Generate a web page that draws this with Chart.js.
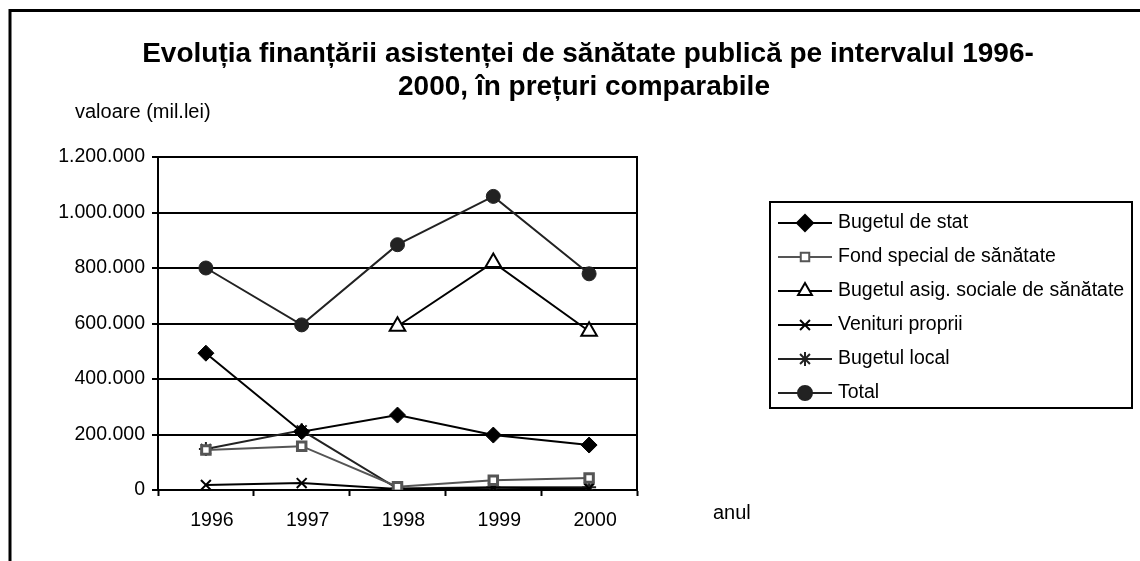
<!DOCTYPE html>
<html>
<head>
<meta charset="utf-8">
<title>Evolutia finantarii</title>
<script src="https://cdn.jsdelivr.net/npm/chart.js@4"></script>
<style>
	body { margin: 0; background: #fff; }
	canvas { display: block; }
</style>
</head>
<body>
<canvas id="chart" width="1140" height="561"></canvas>
<script>
const years = ['1996', '1997', '1998', '1999', '2000'];
const bugetulDeStat = [493000, 210000, 270000, 198000, 162000];
const fondSpecial = [144000, 158000, 12000, 35000, 43000];
const bugetulAsig = [null, null, 590000, 820000, 572000];
const venituriProprii = [18000, 25000, 4000, 8000, 5000];
const bugetulLocal = [148000, 215000, 5000, 10000, 10000];
const total = [800000, 595000, 884000, 1058000, 779000];
const yTicks = [0, 200000, 400000, 600000, 800000, 1000000, 1200000];

const titleLines = ['Evoluția finanțării asistenței de sănătate publică pe intervalul 1996-', '2000, în prețuri comparabile'];
const yTitle = 'valoare (mil.lei)';
const xTitle = 'anul';

const FONT = "'Liberation Sans', Arial, sans-serif";

function fmt(v) {
	return String(v).replace(/\B(?=(\d{3})+(?!\d))/g, '.');
}

const chartData = {
	labels: years,
	datasets: [{
		label: 'Bugetul de stat',
		data: bugetulDeStat,
		borderColor: '#000',
		backgroundColor: '#000',
		pointStyle: 'rectRot',
		pointRadius: 8,
		pointBorderWidth: 1
	}, {
		label: 'Fond special de sănătate',
		data: fondSpecial,
		borderColor: '#555',
		backgroundColor: '#fff',
		pointStyle: 'rect',
		pointRadius: 6,
		pointBorderWidth: 3
	}, {
		label: 'Bugetul asig. sociale de sănătate',
		data: bugetulAsig,
		borderColor: '#000',
		backgroundColor: '#fff',
		pointStyle: 'triangle',
		pointRadius: 9,
		pointBorderWidth: 2
	}, {
		label: 'Venituri proprii',
		data: venituriProprii,
		borderColor: '#000',
		backgroundColor: '#000',
		pointStyle: 'crossRot',
		pointRadius: 7,
		pointBorderWidth: 2
	}, {
		label: 'Bugetul local',
		data: bugetulLocal,
		borderColor: '#222',
		backgroundColor: '#222',
		pointStyle: 'star',
		pointRadius: 7,
		pointBorderWidth: 2
	}, {
		label: 'Total',
		data: total,
		borderColor: '#222',
		backgroundColor: '#222',
		pointStyle: 'circle',
		pointRadius: 7,
		pointBorderWidth: 1
	}]
};

// frame, titles and the legend box, drawn on the canvas
const decor = {
	id: 'decor',
	beforeDatasetsDraw(chart) {
		const ctx = chart.ctx;
		const a = chart.chartArea;
		ctx.save();
		ctx.strokeStyle = '#000';
		ctx.lineWidth = 2;
		ctx.strokeRect(a.left, a.top, a.right - a.left, a.bottom - a.top);
		ctx.restore();
	},
	afterDraw(chart) {
		const ctx = chart.ctx;
		ctx.save();
		// outer frame (only top and left are visible)
		ctx.strokeStyle = '#000';
		ctx.lineWidth = 3;
		ctx.beginPath();
		ctx.moveTo(10, 561);
		ctx.lineTo(10, 10.5);
		ctx.lineTo(1140, 10.5);
		ctx.stroke();

		ctx.fillStyle = '#000';
		ctx.textAlign = 'center';
		ctx.textBaseline = 'middle';
		ctx.font = 'bold 28px ' + FONT;
		ctx.fillText(titleLines[0], 588, 54);
		ctx.fillText(titleLines[1], 584, 87);

		ctx.font = '20px ' + FONT;
		ctx.textAlign = 'left';
		ctx.fillText(yTitle, 75, 112);
		ctx.fillText(xTitle, 713, 513);

		// legend
		ctx.lineWidth = 2;
		ctx.strokeRect(770, 202, 362, 206);
		chart.data.datasets.forEach((ds, i) => {
			const y = 223 + i * 34;
			ctx.strokeStyle = ds.borderColor;
			ctx.lineWidth = 2;
			ctx.beginPath();
			ctx.moveTo(778, y);
			ctx.lineTo(832, y);
			ctx.stroke();
			ctx.fillStyle = ds.backgroundColor;
			Chart.helpers.drawPoint(ctx, {
				pointStyle: ds.pointStyle,
				radius: Math.min(ds.pointRadius, 8),
				rotation: 0,
				borderWidth: ds.pointBorderWidth
			}, 805, y);
			ctx.fillStyle = '#000';
			ctx.font = '19.5px ' + FONT;
			ctx.textAlign = 'left';
			ctx.textBaseline = 'middle';
			ctx.fillText(ds.label, 838, y);
		});
		ctx.restore();
	}
};

const config = {
	type: 'line',
	data: chartData,
	options: {
		responsive: false,
		animation: false,
		devicePixelRatio: 1,
		spanGaps: false,
		elements: {
			line: { borderWidth: 2, tension: 0 }
		},
		layout: {
			padding: { left: 0, top: 157, right: 503, bottom: 0 }
		},
		plugins: {
			legend: { display: false },
			tooltip: { enabled: false }
		},
		scales: {
			x: {
				offset: true,
				afterFit: function(scale) { scale.height = 71; },
				grid: {
					offset: true,
					drawOnChartArea: false,
					drawTicks: true,
					tickLength: 6,
					tickWidth: 2,
					tickColor: '#000'
				},
				border: { display: true, color: '#000', width: 2 },
				ticks: {
					color: '#000',
					padding: 13,
					labelOffset: 6,
					font: { family: FONT, size: 19.5 }
				}
			},
			y: {
				min: 0,
				max: 1200000,
				afterFit: function(scale) { scale.width = 158; },
				afterBuildTicks: function(scale) {
					scale.ticks = yTicks.map(v => ({ value: v }));
				},
				grid: {
					color: '#000',
					lineWidth: 2,
					drawTicks: true,
					tickLength: 6,
					tickColor: '#000'
				},
				border: { display: true, color: '#000', width: 2 },
				ticks: {
					color: '#000',
					padding: 7,
					font: { family: FONT, size: 19.5 },
					callback: function(value) { return fmt(value); }
				}
			}
		}
	},
	plugins: [decor]
};

const chart = new Chart(document.getElementById('chart'), config);
</script>
</body>
</html>
